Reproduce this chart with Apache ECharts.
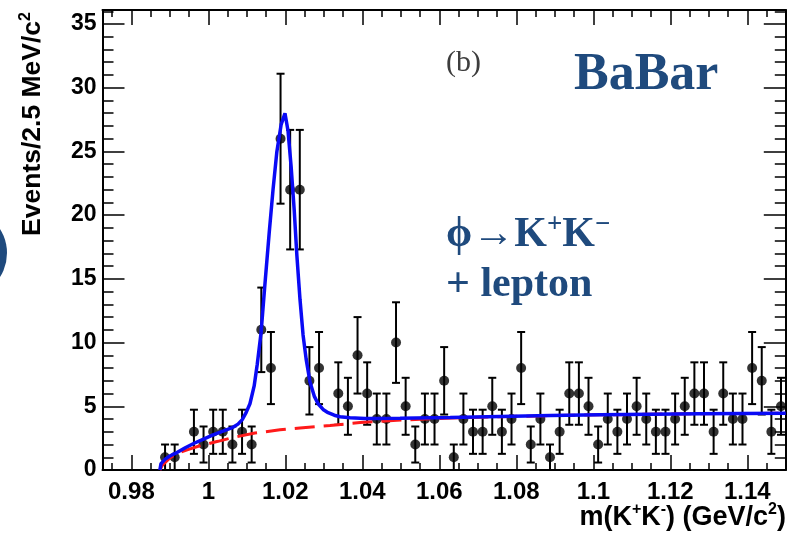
<!DOCTYPE html>
<html>
<head>
<meta charset="utf-8">
<script src="https://cdn.jsdelivr.net/npm/echarts@6/dist/echarts.min.js"></script>
<style>
  html, body { margin: 0; padding: 0; background: #fff; }
  #chart { width: 790px; height: 534px; }
</style>
</head>
<body>
<div id="chart"></div>
<script>
// m(K+K-) bin centres in GeV/c^2 (2.5 MeV bins)
const binCenters = [
  0.98875, 0.99125, 0.99375, 0.99625, 0.99875, 1.00125, 1.00375, 1.00625, 1.00875, 1.01125,
  1.01375, 1.01625, 1.01875, 1.02125, 1.02375, 1.02625, 1.02875, 1.03125, 1.03375, 1.03625,
  1.03875, 1.04125, 1.04375, 1.04625, 1.04875, 1.05125, 1.05375, 1.05625, 1.05875, 1.06125,
  1.06375, 1.06625, 1.06875, 1.07125, 1.07375, 1.07625, 1.07875, 1.08125, 1.08375, 1.08625,
  1.08875, 1.09125, 1.09375, 1.09625, 1.09875, 1.10125, 1.10375, 1.10625, 1.10875, 1.11125,
  1.11375, 1.11625, 1.11875, 1.12125, 1.12375, 1.12625, 1.12875, 1.13125, 1.13375, 1.13625,
  1.13875, 1.14125, 1.14375, 1.14625, 1.14875
];

// events per bin
const eventCounts = [
  1, 1, 0, 3, 2, 3, 3, 2, 3, 2,
  11, 8, 26, 22, 22, 7, 8, 0, 6, 5,
  9, 6, 4, 4, 10, 5, 2, 4, 4, 7,
  1, 4, 3, 3, 5, 3, 4, 8, 2, 4,
  1, 3, 6, 6, 5, 2, 4, 3, 4, 5,
  4, 3, 3, 4, 5, 6, 6, 3, 6, 4,
  4, 8, 7, 3, 5
];

// total fit (signal + background), [mass, events]
const fitTotal = [
  [0.9874, 0], [0.9877, 0.5], [0.9888, 0.85], [0.9900, 1.1], [0.9914, 1.3],
  [0.9940, 1.75], [0.9963, 2.1], [0.9989, 2.45], [1.0012, 2.75], [1.0038, 3.05],
  [1.0064, 3.35], [1.0077, 3.6], [1.0088, 3.95], [1.0098, 4.5], [1.0108, 5.2],
  [1.0119, 6.6], [1.0127, 8.3], [1.0137, 10.8], [1.0147, 14.6], [1.0158, 18.6],
  [1.0168, 22.0], [1.0178, 25.0], [1.0189, 27.1], [1.0199, 28.0], [1.0207, 26.6],
  [1.0215, 23.8], [1.0223, 20.4], [1.0230, 16.8], [1.0238, 13.4], [1.0246, 10.6],
  [1.0254, 8.7], [1.0264, 6.9], [1.0275, 5.8], [1.0285, 5.2], [1.0298, 4.75],
  [1.0311, 4.5], [1.0327, 4.3], [1.0342, 4.18], [1.0368, 4.1], [1.0407, 4.05],
  [1.0498, 4.06], [1.0628, 4.12], [1.0758, 4.2], [1.0888, 4.28], [1.1017, 4.34],
  [1.1147, 4.38], [1.1277, 4.41], [1.15, 4.45]
];

// background component of the fit
const fitBackground = [
  [0.9874, 0], [0.9880, 0.35], [0.9888, 0.6], [0.9900, 0.95], [0.9914, 1.2],
  [0.9927, 1.4], [0.9947, 1.6], [0.9978, 1.9], [1.0025, 2.25], [1.0064, 2.55],
  [1.0121, 2.9], [1.0186, 3.15], [1.0238, 3.3], [1.0316, 3.5], [1.0394, 3.72],
  [1.0490, 3.9], [1.0576, 4.02], [1.0654, 4.1], [1.0758, 4.18], [1.0888, 4.27],
  [1.1017, 4.33], [1.1147, 4.38], [1.1277, 4.42], [1.15, 4.45]
];

// axis ticks and labels
const xTickLabels = [0.98, 1.0, 1.02, 1.04, 1.06, 1.08, 1.1, 1.12, 1.14];
const yTickLabels = [0, 5, 10, 15, 20, 25, 30, 35];

const xRange = [0.9725, 1.15];
const yRange = [0, 36.1];

const xMinorTicks = [];
for (let i = 0; i <= 34; i++) xMinorTicks.push(Math.round((0.975 + i * 0.005) * 1e4) / 1e4);
const yMinorTicks = [];
for (let i = 0; i <= 36; i++) yMinorTicks.push(i);

const sansFont = "'Liberation Sans', Arial, Helvetica, sans-serif";
const serifFont = "'Liberation Serif', 'Times New Roman', Times, serif";
const navy = '#1f4a7d';

const points = [];
const errors = [];
binCenters.forEach((x, i) => {
  const n = eventCounts[i];
  if (n > 0) {
    points.push([x, n]);
    const e = Math.sqrt(n);
    errors.push([x, n - e, n + e]);
  }
});

function xAxisDef(position, ticks, len, showLine, showLabels) {
  return {
    type: 'value', gridIndex: 0, position: position,
    min: xRange[0], max: xRange[1],
    axisLine: { show: showLine, onZero: false, lineStyle: { color: '#000', width: 2 } },
    axisTick: { show: true, inside: true, length: len, customValues: ticks,
                lineStyle: { color: '#000', width: 1.5 } },
    axisLabel: showLabels ? {
      show: true, customValues: xTickLabels, margin: 10,
      color: '#000', fontFamily: sansFont, fontWeight: 'bold', fontSize: 24,
      formatter: v => String(+v.toFixed(2))
    } : { show: false },
    splitLine: { show: false }
  };
}

function yAxisDef(position, ticks, len, showLine, showLabels) {
  return {
    type: 'value', gridIndex: 0, position: position,
    min: yRange[0], max: yRange[1],
    axisLine: { show: showLine, onZero: false, lineStyle: { color: '#000', width: 2 } },
    axisTick: { show: true, inside: true, length: len, customValues: ticks,
                lineStyle: { color: '#000', width: 1.5 } },
    axisLabel: showLabels ? {
      show: true, customValues: yTickLabels, margin: 6,
      color: '#000', fontFamily: sansFont, fontWeight: 'bold', fontSize: 23
    } : { show: false },
    splitLine: { show: false }
  };
}

const supStyle = (size, color, family) => ({
  fontSize: size, fontWeight: 'bold', fontFamily: family, fill: color, color: color,
  verticalAlign: 'top', lineHeight: size
});
const baseStyle = (size, color, family, lh) => ({
  fontSize: size, fontWeight: 'bold', fontFamily: family, fill: color, color: color,
  lineHeight: lh
});

const option = {
  animation: false,
  backgroundColor: '#fff',
  grid: { left: 102.5, right: 4.2, top: 10, bottom: 64, outerBoundsMode: 'none', containLabel: false },
  xAxis: [
    xAxisDef('bottom', xTickLabels, 15, true, true),
    xAxisDef('bottom', xMinorTicks, 7, false, false),
    xAxisDef('top', xTickLabels, 15, true, false),
    xAxisDef('top', xMinorTicks, 7, false, false)
  ],
  yAxis: [
    yAxisDef('left', yTickLabels, 22, true, true),
    yAxisDef('left', yMinorTicks, 11, false, false),
    yAxisDef('right', yTickLabels, 22, true, false),
    yAxisDef('right', yMinorTicks, 11, false, false)
  ],
  series: [
    {
      type: 'custom', name: 'errors', xAxisIndex: 0, yAxisIndex: 0, z: 2,
      data: errors,
      encode: { x: 0, y: [1, 2] },
      renderItem: (params, api) => {
        const x = api.value(0);
        const lo = api.coord([x, api.value(1)]);
        const hi = api.coord([x, api.value(2)]);
        const cw = 4;
        const st = { stroke: '#000', lineWidth: 2 };
        return {
          type: 'group',
          children: [
            { type: 'line', shape: { x1: lo[0], y1: lo[1], x2: hi[0], y2: hi[1] }, style: st },
            { type: 'line', shape: { x1: lo[0] - cw, y1: lo[1], x2: lo[0] + cw, y2: lo[1] }, style: st },
            { type: 'line', shape: { x1: hi[0] - cw, y1: hi[1], x2: hi[0] + cw, y2: hi[1] }, style: st }
          ]
        };
      }
    },
    {
      type: 'scatter', name: 'data', xAxisIndex: 0, yAxisIndex: 0, z: 3,
      data: points, symbol: 'circle', symbolSize: 10,
      itemStyle: { color: '#000' }
    },
    {
      type: 'line', name: 'background', xAxisIndex: 0, yAxisIndex: 0, z: 4,
      data: fitBackground, showSymbol: false, smooth: false,
      lineStyle: { color: '#ff1a1a', width: 3, type: [20, 9] }
    },
    {
      type: 'line', name: 'fit', xAxisIndex: 0, yAxisIndex: 0, z: 5,
      data: fitTotal, showSymbol: false, smooth: false,
      lineStyle: { color: '#0a0af5', width: 3.5 }
    }
  ],
  graphic: [
    { type: 'circle', shape: { cx: -38, cy: 253, r: 45 }, style: { fill: navy } },
    {
      type: 'text', x: 33, y: 12, rotation: Math.PI / 2,
      style: {
        text: '{n|Events/2.5 MeV/c}{s|2}',
        align: 'right', verticalAlign: 'middle',
        rich: { n: baseStyle(26.5, '#000', sansFont, 31), s: supStyle(16, '#000', sansFont) }
      }
    },
    {
      type: 'text', x: 786, y: 533,
      style: {
        text: '{n|m(K}{s|+}{n|K}{s|-}{n|) (GeV/c}{s|2}{n|)}',
        align: 'right', verticalAlign: 'bottom',
        rich: { n: baseStyle(27, '#000', sansFont, 31), s: supStyle(16, '#000', sansFont) }
      }
    },
    {
      type: 'text', x: 446, y: 63,
      style: { text: '(b)', font: '30px ' + serifFont, fill: '#3d3d3d',
               align: 'left', verticalAlign: 'middle' }
    },
    {
      type: 'text', x: 574, y: 75.5,
      style: { text: 'BaBar', font: 'bold 52px ' + serifFont, fill: navy,
               align: 'left', verticalAlign: 'middle' }
    },
    {
      type: 'text', x: 446, y: 235,
      style: {
        text: '{n|ϕ→K}{s|+}{n|K}{s|−}',
        align: 'left', verticalAlign: 'middle',
        rich: { n: baseStyle(42, navy, serifFont, 46), s: supStyle(27, navy, serifFont) }
      }
    },
    {
      type: 'text', x: 446, y: 285,
      style: { text: '+ lepton', font: 'bold 42px ' + serifFont, fill: navy,
               align: 'left', verticalAlign: 'middle' }
    }
  ]
};

const chart = echarts.init(document.getElementById('chart'), null, { renderer: 'canvas' });
chart.setOption(option);
</script>
</body>
</html>
